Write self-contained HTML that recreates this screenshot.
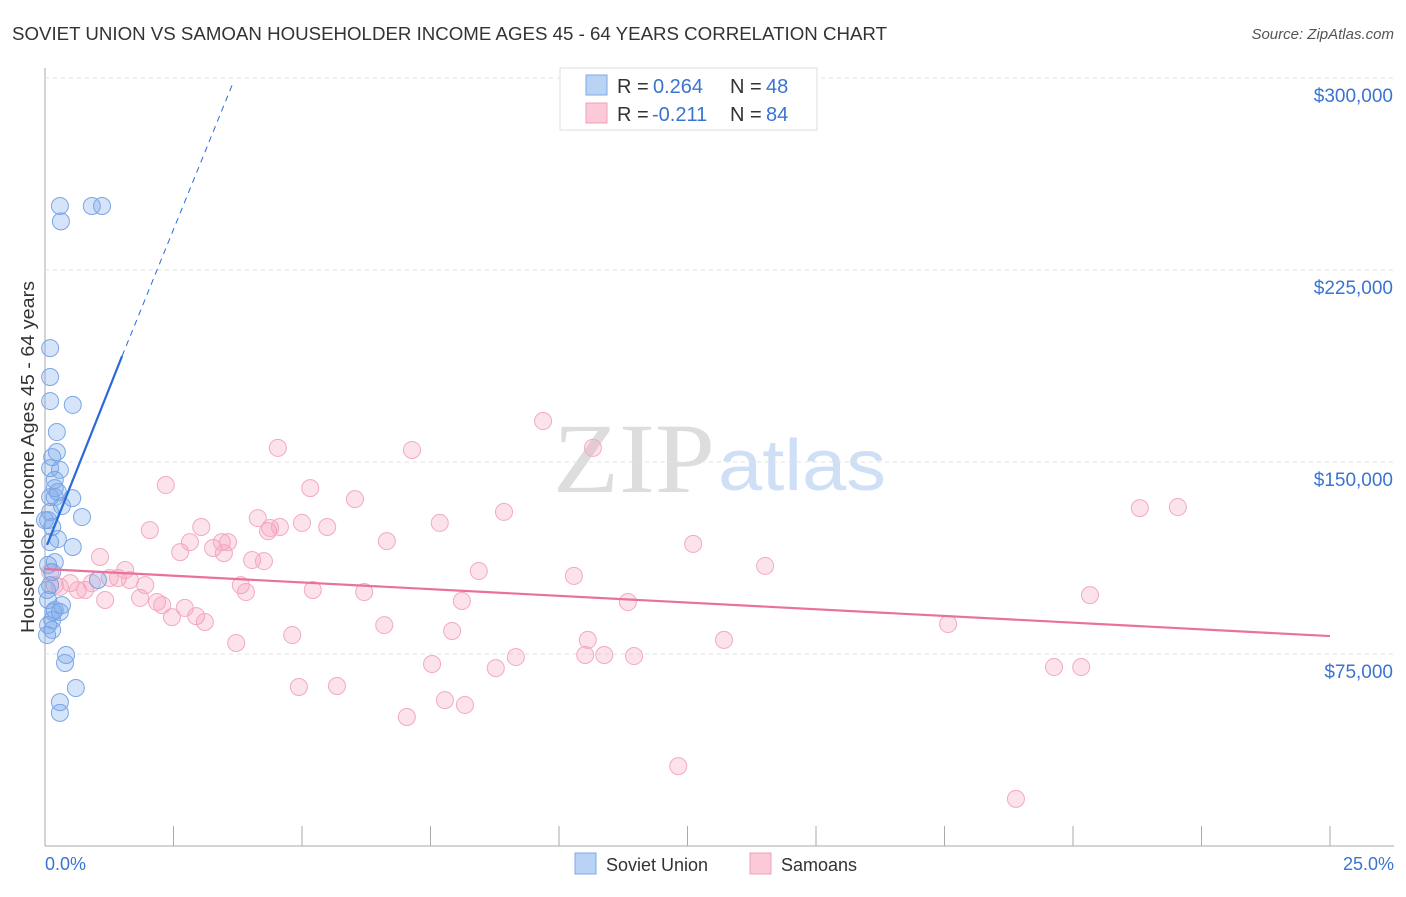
<!DOCTYPE html>
<html><head><meta charset="utf-8"><style>
body{margin:0;background:#fff;font-family:"Liberation Sans",sans-serif}
#c{position:relative;width:1406px;height:892px}
</style></head><body>
<div id="c">
<svg id="s" width="1406" height="892" xmlns="http://www.w3.org/2000/svg">
<text x="12" y="40" font-size="18" fill="#333" textLength="875" lengthAdjust="spacingAndGlyphs">SOVIET UNION VS SAMOAN HOUSEHOLDER INCOME AGES 45 - 64 YEARS CORRELATION CHART</text>
<text x="1394" y="39" font-size="15" fill="#555" text-anchor="end" font-style="italic">Source: ZipAtlas.com</text>
<text x="553" y="492" font-size="100" fill="#ddd" textLength="162" lengthAdjust="spacingAndGlyphs" font-family="Liberation Serif">ZIP</text>
<text x="718" y="490" font-size="72" fill="#cfdff5" textLength="168" lengthAdjust="spacingAndGlyphs">atlas</text>
<text transform="translate(34,457) rotate(-90)" font-size="18" fill="#333" text-anchor="middle" textLength="352" lengthAdjust="spacingAndGlyphs">Householder Income Ages 45 - 64 years</text>
<g id="grid"></g><g id="marks"></g>
<g>
<rect x="560" y="68" width="257" height="62" fill="#fff" stroke="#ddd"/>
<rect x="586" y="75" width="21" height="20" fill="#b9d3f5" stroke="#7fa8e3"/>
<rect x="586" y="103" width="21" height="20" fill="#fbc9d7" stroke="#f0a0b8"/>
<text x="617" y="93" font-size="20" fill="#333">R =</text>
<text x="653" y="93" font-size="20" fill="#3a74d0">0.264</text>
<text x="730" y="93" font-size="20" fill="#333">N =</text>
<text x="766" y="93" font-size="20" fill="#3a74d0">48</text>
<text x="617" y="121" font-size="20" fill="#333">R =</text>
<text x="652" y="121" font-size="20" fill="#3a74d0">-0.211</text>
<text x="730" y="121" font-size="20" fill="#333">N =</text>
<text x="766" y="121" font-size="20" fill="#3a74d0">84</text>
</g>
<g>
<rect x="575" y="853" width="21" height="21" fill="#b9d3f5" stroke="#7fa8e3"/>
<text x="606" y="871" font-size="18" fill="#333">Soviet Union</text>
<rect x="750" y="853" width="21" height="21" fill="#fbc9d7" stroke="#f0a0b8"/>
<text x="781" y="871" font-size="18" fill="#333">Samoans</text>
</g>
<text x="45" y="870" font-size="18" fill="#3a74d0">0.0%</text>
<text x="1394" y="870" font-size="18" fill="#3a74d0" text-anchor="end">25.0%</text>
</svg></div>
<script>
const yTicks=[75000,150000,225000,300000];
const yTickLabels=["$75,000","$150,000","$225,000","$300,000"];
const xTicks=[0,2.5,5,7.5,10,12.5,15,17.5,20,22.5,25];
const blueX=[.29,.31,.91,1.11,.10,.10,.10,.54,.23,.23,.14,.19,.19,.25,.53,.10,.33,.10,.72,.14,.25,.54,.10,.19,.06,.14,.06,.33,.29,.14,.06,.14,.04,.41,.39,.60,.29,.29,1.03,.10,.19,.04,.19,.10,.06,.29,.16,0];
const blueY=[250,244,250,250,194.5,183.2,173.8,172.3,161.7,153.9,151.9,143,139.8,138.3,135.9,136.3,132.8,130.5,128.5,124.6,119.9,116.8,118.7,110.9,109.8,107,96.1,94.1,91.4,88.3,86.3,84.4,82.4,74.6,71.5,61.7,56.2,52,103.9,101.9,92.2,100,136.3,147.6,127.3,146.9,91.4,127.3];
const pinkX=[.10,.19,.29,.49,.64,.78,.91,1.07,1.17,1.26,1.42,1.56,1.65,1.85,1.95,2.04,2.18,2.28,2.35,2.47,2.63,2.72,2.82,2.94,3.04,3.11,3.27,3.44,3.48,3.56,3.72,3.81,3.91,4.03,4.14,4.26,4.34,4.38,4.53,4.57,4.81,4.94,5.00,5.16,5.21,5.49,5.68,6.03,6.21,6.60,6.65,7.04,7.14,7.53,7.68,7.78,7.92,8.11,8.17,8.44,8.77,8.93,9.16,9.69,10.29,10.51,10.56,10.66,10.88,11.34,11.46,12.32,12.61,13.21,14.01,17.57,18.89,19.63,20.16,20.33,21.30,22.04];
const pinkY=[107,101.9,101.2,102.7,100,100,102.7,112.9,96.1,104.7,104.7,107.8,103.9,96.9,101.9,123.4,95.3,94.1,141,89.4,114.8,93,118.7,89.8,124.6,87.5,116.4,118.7,114.4,118.7,79.3,101.9,99.2,111.7,128.1,111.3,123,124.2,155.5,124.6,82.4,62.1,126.2,139.8,100,124.6,62.5,135.5,99.2,86.3,119.1,50.4,154.7,71.1,126.2,57,84,95.7,55.1,107.4,69.5,130.5,73.8,166,105.5,74.6,80.5,155.5,74.6,95.3,74.2,31.2,118,80.5,109.4,86.7,18.4,69.9,69.9,98,132,132.4];
const blueTrend=[0.04,117.6,1.50,191.4,3.64,297.2];
const pinkTrend=[0,108.2,25,82.0];
const X=v=>45+v/2.5*128.5, Y=v=>846-v/75000*192, Yk=v=>Y(v*1000);
const NS="http://www.w3.org/2000/svg";
function mk(t,a,p){const e=document.createElementNS(NS,t);for(const k in a)e.setAttribute(k,a[k]);p.appendChild(e);return e;}
const g=document.getElementById('grid'),m=document.getElementById('marks');
let ax=mk('line',{x1:45,y1:68,x2:45,y2:846,stroke:'#aaa'},g);

let bx=mk('line',{x1:45,y1:846,x2:1394,y2:846,stroke:'#aaa'},g);

yTicks.forEach((t,i)=>{const gl=mk('line',{x1:45,x2:1394,y1:Y(t),y2:Y(t),stroke:'#e2e2e2','stroke-dasharray':'4,4'},g);

const tx=mk('text',{x:1393,y:Y(t)+24,'font-size':19,fill:'#3a74d0','text-anchor':'end'},g);tx.textContent=yTickLabels[i];
});
xTicks.forEach(t=>{const tl=mk('line',{x1:X(t),x2:X(t),y1:826,y2:846,stroke:'#aaa'},g);
});
pinkX.forEach((x,i)=>{const c=mk('circle',{cx:X(x),cy:Yk(pinkY[i]),r:8.5,fill:'rgba(245,160,185,0.3)',stroke:'#f3aac0','stroke-width':1},m);
});
blueX.forEach((x,i)=>{const c=mk('circle',{cx:X(x),cy:Yk(blueY[i]),r:8.5,fill:'rgba(120,165,235,0.3)',stroke:'#7aa6e6','stroke-width':1},m);
});
let pl=mk('line',{x1:X(pinkTrend[0]),y1:Yk(pinkTrend[1]),x2:X(pinkTrend[2]),y2:Yk(pinkTrend[3]),stroke:'#e8729a','stroke-width':2.2},m);

let b1=mk('line',{x1:X(blueTrend[0]),y1:Yk(blueTrend[1]),x2:X(blueTrend[2]),y2:Yk(blueTrend[3]),stroke:'#2a6ad8','stroke-width':2.2},m);

let b2=mk('line',{x1:X(blueTrend[2]),y1:Yk(blueTrend[3]),x2:X(blueTrend[4]),y2:Yk(blueTrend[5]),stroke:'#2a6ad8','stroke-width':1,'stroke-dasharray':'6,5'},m);

</script>
</body></html>
